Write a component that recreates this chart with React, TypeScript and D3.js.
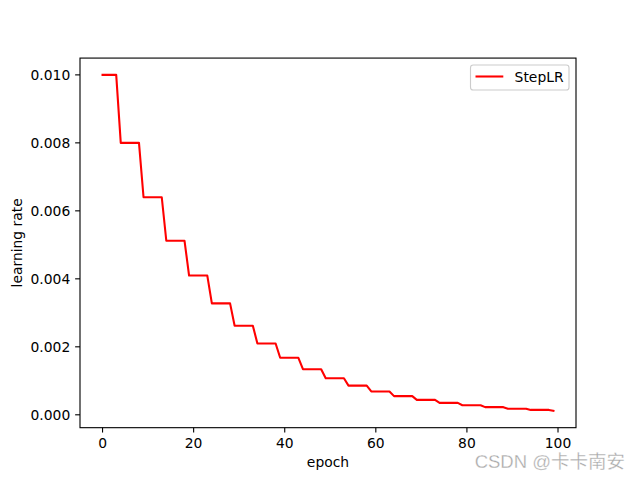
import React from "react";
import * as d3 from "d3";

const epochs: number[] = Array.from({ length: 100 }, (_, i) => i);
const learningRate: number[] = [
  0.01, 0.01, 0.01, 0.01,
  0.008, 0.008, 0.008, 0.008, 0.008,
  0.0064, 0.0064, 0.0064, 0.0064, 0.0064,
  0.00512, 0.00512, 0.00512, 0.00512, 0.00512,
  0.004096, 0.004096, 0.004096, 0.004096, 0.004096,
  0.0032768, 0.0032768, 0.0032768, 0.0032768, 0.0032768,
  0.00262144, 0.00262144, 0.00262144, 0.00262144, 0.00262144,
  0.002097152, 0.002097152, 0.002097152, 0.002097152, 0.002097152,
  0.0016777216, 0.0016777216, 0.0016777216, 0.0016777216, 0.0016777216,
  0.00134217728, 0.00134217728, 0.00134217728, 0.00134217728, 0.00134217728,
  0.001073741824, 0.001073741824, 0.001073741824, 0.001073741824, 0.001073741824,
  0.000858993, 0.000858993, 0.000858993, 0.000858993, 0.000858993,
  0.000687195, 0.000687195, 0.000687195, 0.000687195, 0.000687195,
  0.000549756, 0.000549756, 0.000549756, 0.000549756, 0.000549756,
  0.000439805, 0.000439805, 0.000439805, 0.000439805, 0.000439805,
  0.000351844, 0.000351844, 0.000351844, 0.000351844, 0.000351844,
  0.000281475, 0.000281475, 0.000281475, 0.000281475, 0.000281475,
  0.00022518, 0.00022518, 0.00022518, 0.00022518, 0.00022518,
  0.000180144, 0.000180144, 0.000180144, 0.000180144, 0.000180144,
  0.000144115, 0.000144115, 0.000144115, 0.000144115, 0.000144115,
  0.000115292,
];
const xTicks: number[] = [0, 20, 40, 60, 80, 100];
const yTicks: number[] = [0, 0.002, 0.004, 0.006, 0.008, 0.01];
const seriesName = "StepLR";

export default function App() {
  const W = 640, H = 480;
  const L = 80, R = 576, T = 58.08, B = 427.68;
  const fs = 13.89;
  const tick = 4.86;
  const font = "DejaVu Sans, sans-serif";

  const xMin = d3.min(epochs)!, xMax = d3.max(epochs)!;
  const yMin = d3.min(learningRate)!, yMax = d3.max(learningRate)!;
  const xPad = (xMax - xMin) * 0.05, yPad = (yMax - yMin) * 0.05;
  const x = d3.scaleLinear().domain([xMin - xPad, xMax + xPad]).range([L, R]);
  const y = d3.scaleLinear().domain([yMin - yPad, yMax + yPad]).range([B, T]);

  const line = d3
    .line<number>()
    .x((_, i) => x(epochs[i]))
    .y((d) => y(d));

  return (
    <svg width={W} height={H} style={{ display: "block", position: "absolute", left: 0, top: 0 }}>
      <rect width={W} height={H} fill="#fff" />
      <path d={line(learningRate)!} fill="none" stroke="red" strokeWidth={2.08} strokeLinejoin="round" strokeLinecap="square" />
      <rect x={L} y={T} width={R - L} height={B - T} fill="none" stroke="#000" strokeWidth={1.11} />
      {xTicks.map((t) => (
        <g key={"x" + t}>
          <line x1={x(t)} x2={x(t)} y1={B} y2={B + tick} stroke="#000" strokeWidth={1.11} />
          <text x={x(t)} y={B + tick + 4.86 + 10.6} fontSize={fs} fontFamily={font} textAnchor="middle">
            {t}
          </text>
        </g>
      ))}
      {yTicks.map((t) => (
        <g key={"y" + t}>
          <line x1={L - tick} x2={L} y1={y(t)} y2={y(t)} stroke="#000" strokeWidth={1.11} />
          <text x={L - tick - 4.86} y={y(t)} dy="0.36em" fontSize={fs} fontFamily={font} textAnchor="end">
            {t.toFixed(3)}
          </text>
        </g>
      ))}
      <text x={(L + R) / 2} y={467} fontSize={fs} fontFamily={font} textAnchor="middle">
        epoch
      </text>
      <text
        transform={`translate(22,${(T + B) / 2}) rotate(-90)`}
        fontSize={fs}
        fontFamily={font}
        textAnchor="middle"
      >
        learning rate
      </text>
      <g>
        <rect x={470.5} y={65} width={98.5} height={25} rx={2.8} fill="#fff" fillOpacity={0.8} stroke="#cccccc" strokeWidth={1.11} />
        <line x1={475.5} x2={503.3} y1={76.5} y2={76.5} stroke="red" strokeWidth={2.08} />
        <text x={514.6} y={76.5} dy="0.36em" fontSize={fs} fontFamily={font}>
          {seriesName}
        </text>
      </g>
      <text x={625} y={467.5} fontSize={18.5} fontFamily="Liberation Sans, Arial, Noto Sans CJK SC, sans-serif" textAnchor="end" fill="#a8a8a8" stroke="#ffffff" strokeWidth={0.3}>
        CSDN @卡卡南安
      </text>
    </svg>
  );
}
